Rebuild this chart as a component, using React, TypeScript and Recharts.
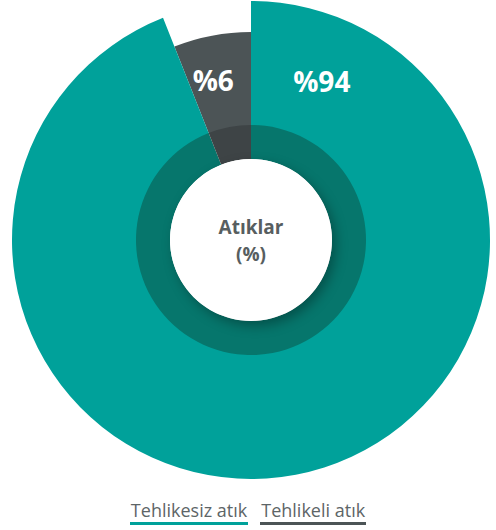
import React from 'react';
import { PieChart, Pie, Cell, Legend } from 'recharts';

const categories = ['Tehlikesiz atık', 'Tehlikeli atık'];
const shares = [94, 6];
const valueLabels = ['%94', '%6'];
const centerLines = ['Atıklar', '(%)'];

const outerColors = ['#00a19a', '#4c5456'];
const ringColors = ['#06766c', '#3e4446'];

const data = categories.map((name, i) => ({ name, value: shares[i], label: valueLabels[i] }));
const centerData = [{ name: 'center', value: 1 }];

const RAD = Math.PI / 180;

// labels sit inside the outer ring; the big slice's label is pushed close to the top edge
const renderValueLabel = (props: any) => {
  const { cx, cy, startAngle, midAngle, index } = props;
  const angle = index === 0 ? startAngle - 24 : midAngle + 2.5;
  const r = index === 0 ? 174 : 164;
  const x = cx + r * Math.cos(angle * RAD);
  const y = cy - r * Math.sin(angle * RAD);
  return (
    <text
      x={x}
      y={y}
      fill="#ffffff"
      textAnchor="middle"
      dominantBaseline="central"
      fontFamily="'Open Sans', sans-serif"
      fontWeight={700}
      fontSize={28}
    >
      {data[index].label}
    </text>
  );
};

const renderCenterText = (props: any) => {
  const { cx, cy } = props;
  return (
    <g fontFamily="'Open Sans', sans-serif" fontWeight={700} fontSize={19} fill="#575e60" textAnchor="middle">
      <text x={cx} y={cy - 13} dominantBaseline="central">{centerLines[0]}</text>
      <text x={cx} y={cy + 14} dominantBaseline="central">{centerLines[1]}</text>
    </g>
  );
};

const LegendContent = () => (
  <div style={{ display: 'flex', justifyContent: 'center', fontFamily: "'Open Sans', sans-serif", fontSize: 18, color: '#5d6567' }}>
    {data.map((d, i) => (
      <div key={d.name} style={{ marginRight: i === 0 ? 12 : 0 }}>
        <div style={{ lineHeight: '22px', padding: '0 1px' }}>{d.name}</div>
        <div style={{ height: 3, marginTop: 1, background: outerColors[i] }} />
      </div>
    ))}
  </div>
);

export default function App() {
  const cx = 251;
  const cy = 240;
  return (
    <div style={{ position: 'absolute', left: 0, top: 0, width: 496, height: 530, background: '#ffffff' }}>
      <PieChart width={496} height={530} margin={{ top: 0, right: 0, bottom: 0, left: 0 }}>
        {/* small slice, shorter radius */}
        <Pie
          data={data}
          dataKey="value"
          cx={cx}
          cy={cy}
          startAngle={90}
          endAngle={-270}
          innerRadius={114}
          outerRadius={208}
          stroke="none"
          isAnimationActive={false}
          legendType="none"
        >
          {data.map((d, i) => (
            <Cell key={d.name} fill={i === 1 ? outerColors[1] : 'transparent'} />
          ))}
        </Pie>
        {/* big slice, full radius */}
        <Pie
          data={data}
          dataKey="value"
          cx={cx}
          cy={cy}
          startAngle={90}
          endAngle={-270}
          innerRadius={114}
          outerRadius={239}
          stroke="none"
          isAnimationActive={false}
          labelLine={false}
          label={renderValueLabel}
        >
          {data.map((d, i) => (
            <Cell key={d.name} fill={i === 0 ? outerColors[0] : 'transparent'} />
          ))}
        </Pie>
        {/* darker inner ring */}
        <Pie
          data={data}
          dataKey="value"
          cx={cx}
          cy={cy}
          startAngle={90}
          endAngle={-270}
          innerRadius={81}
          outerRadius={115}
          stroke="none"
          isAnimationActive={false}
          legendType="none"
        >
          {data.map((d, i) => (
            <Cell key={d.name} fill={ringColors[i]} />
          ))}
        </Pie>
        {/* white hub carrying the centre title */}
        <Pie
          data={centerData}
          dataKey="value"
          cx={cx}
          cy={cy}
          innerRadius={0}
          outerRadius={81}
          stroke="none"
          isAnimationActive={false}
          legendType="none"
          labelLine={false}
          label={renderCenterText}
        >
          <Cell fill="#ffffff" style={{ filter: 'drop-shadow(4px 5px 6px rgba(0,0,0,0.3))' }} />
        </Pie>
        <Legend
          verticalAlign="bottom"
          align="center"
          content={<LegendContent />}
          wrapperStyle={{ bottom: 5 }}
        />
      </PieChart>
    </div>
  );
}
